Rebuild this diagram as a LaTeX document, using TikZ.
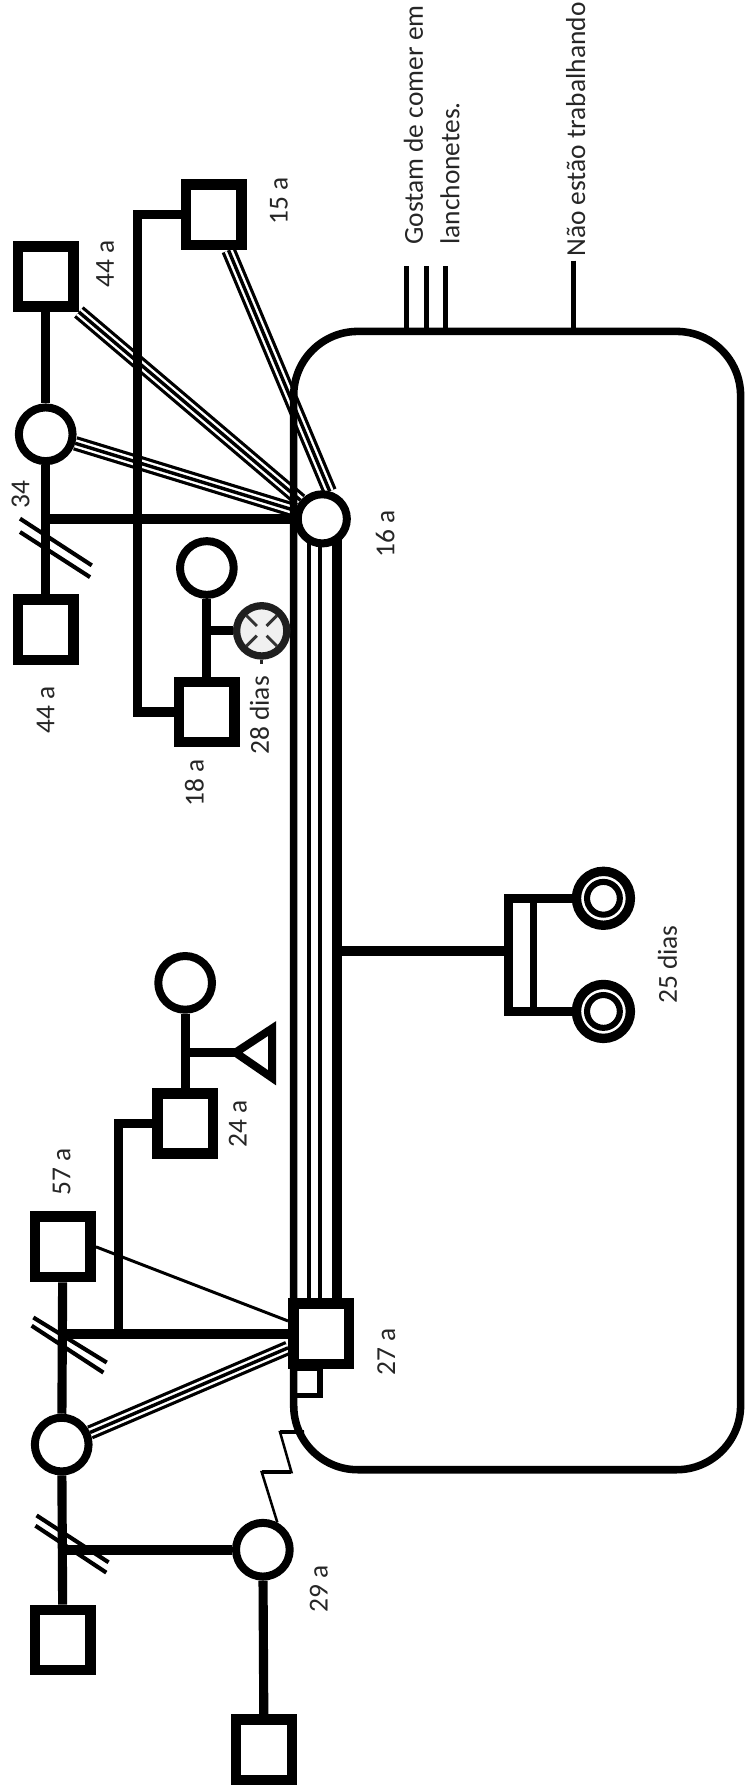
\documentclass[tikz,border=0pt]{standalone}
\usepackage{fontspec}
\setmainfont{Carlito}
\usetikzlibrary{shapes.geometric}
\pgfdeclarelayer{bg}
\pgfsetlayers{bg,main}
\tikzset{
  sq/.style={draw, line width=4.6pt, fill=white, minimum width=24.4pt, minimum height=26.4pt, inner sep=0pt},
  ci/.style={draw, circle, line width=3.5pt, fill=white, minimum size=23.5pt, inner sep=0pt},
  twin/.style={draw, circle, line width=4.1pt, fill=white, minimum size=23.6pt, inner sep=0pt},
  conn/.style={line width=4pt},
  marr/.style={line width=4.5pt},
  thinl/.style={line width=1.8pt},
  slash/.style={line width=1.8pt},
  zig/.style={line width=1.1pt, line join=miter},
  zigh/.style={line width=1.9pt},
  lab/.style={rotate=90, font=\fontsize{12}{14}\selectfont, text=black!85, inner sep=0pt},
  tripA/.style={line width=6.4pt},
  tripB/.style={line width=3.6pt, white},
  tripC/.style={line width=1.5pt},
  xmark/.style={line width=1.3pt, draw=black!80},
}
\newcommand\tripline[2]{\draw[tripA] #1 -- #2; \draw[tripB] #1 -- #2; \draw[tripC] #1 -- #2;}
\begin{document}
\begin{tikzpicture}[x=0.5pt, y=-0.5pt]
\useasboundingbox (0,0) rectangle (654,1568);

% ---------- persons ----------
\node[sq] (sqA) at (40,242) {};
\node[ci] (cB) at (40,380) {};
\node[sq] (sqC) at (40,551) {};
\node[sq] (sq15) at (187,188) {};
\node[ci, minimum size=21.5pt] (c16) at (282,454) {};
\node[ci] (c18w) at (181,497) {};
\node[sq] (sq18) at (181,623) {};
\node[ci, draw=black!88, fill=black!6, line width=3.2pt, minimum size=22pt] (cdead) at (229,552) {};
\node[ci] (c24w) at (162,860) {};
\node[sq] (sq24) at (162,983) {};
\node[sq] (sq57) at (55,1091) {};
\node[ci] (c27m) at (54,1264) {};
\node[sq] (sqBL) at (55,1435) {};
\node[sq] (sq27) at (281,1167) {};
\node[ci] (c29) at (230,1356) {};
\node[sq] (sq29c) at (231,1531) {};
\node[twin] (tw1) at (528,786) {};
\node[twin] (tw2) at (528,885) {};
\draw[line width=2.65pt] (tw1.center) circle[radius=7.18pt];
\draw[line width=2.65pt] (tw2.center) circle[radius=7.18pt];

% deceased mark
\draw[xmark] ([shift={(45:3pt)}]cdead.center) -- ([shift={(45:9.5pt)}]cdead.center);
\draw[xmark] ([shift={(135:3pt)}]cdead.center) -- ([shift={(135:9.5pt)}]cdead.center);
\draw[xmark] ([shift={(225:3pt)}]cdead.center) -- ([shift={(225:9.5pt)}]cdead.center);
\draw[xmark] ([shift={(315:3pt)}]cdead.center) -- ([shift={(315:9.5pt)}]cdead.center);
\draw[line width=1.5pt, black!85] (cdead.south) -- ++(0,4);

% pregnancy triangle
\coordinate (tri) at (206,921);
\draw[line width=3.5pt, line join=miter, fill=white] (tri) -- (238,900) -- (238,943) -- cycle;

% ---------- helper coordinates ----------
\coordinate (vx) at (120,0);
\coordinate (vx2) at (104,0);
\coordinate (k1) at (270,0);
\coordinate (k2) at (280,0);
\coordinate (k3) at (295,0);
\coordinate (twbar) at (445,832);
\coordinate (bx) at (445,0);
\coordinate (bi) at (467,0);
\coordinate (g1) at (356,233);
\coordinate (g2) at (373,233);
\coordinate (g3) at (390,233);
\coordinate (g4) at (502,228);
\coordinate (zz) at (266,1253);

\begin{pgfonlayer}{bg}
% relationship triple lines
\tripline{(sqA.south east)}{(c16)}
\tripline{(cB)}{(c16)}
\tripline{(sq15)}{(c16.75)}
\tripline{(c27m)}{(sq27)}
\draw[line width=1.3pt] (sq57.east) -- (sq27);

% household
\node[draw, rounded corners=28pt, line width=3.3pt, minimum width=195.5pt, minimum height=498pt, inner sep=0pt] (house) at (452.5,788) {};
\draw[line width=2.3pt] (256.5,1197) rectangle (280,1221);
\draw[line width=2.2pt] (g1) -- (g1 |- house.north);
\draw[line width=2.2pt] (g2) -- (g2 |- house.north);
\draw[line width=2.2pt] (g3) -- (g3 |- house.north);
\draw[line width=2.2pt] (g4) -- (g4 |- house.north);

% family lines
\draw[conn] (sqA) -- (cB);
\draw[conn] (cB) -- (sqC);
\draw[marr] (cB |- c16) -- (c16);
\draw[conn] (sq15.west) -- (sq15.west -| vx) |- (sq18);
\draw[conn] (c18w) -- (sq18);
\draw[conn] (c18w |- cdead) -- (cdead);
\draw[conn] (c24w) -- (sq24);
\draw[conn] (c24w |- tri) -- (tri);
\draw[conn] (sq24) -- (sq24 -| vx2) -- (vx2 |- sq27);
\draw[conn] (sq57) -- (c27m);
\draw[marr] (sq57 |- sq27) -- (sq27);
\draw[conn] (c27m) -- (sqBL);
\draw[marr] (c27m |- c29) -- (c29);
\draw[conn] (c29) -- (sq29c);

% couple 16a - 27a
\draw[thinl] (k1 |- c16) -- (k1 |- sq27);
\draw[thinl] (k2 |- c16) -- (k2 |- sq27);
\draw[line width=4.2pt] (k3 |- c16) -- (k3 |- sq27);

% twins
\draw[marr] (k3 |- twbar) -- (twbar);
\draw[conn, line join=miter] (tw1) -- (bx |- tw1) -- (bx |- tw2) -- (tw2);
\draw[line width=2.9pt] (bi |- tw1) -- (bi |- tw2);

% divorce / separation marks
\draw[slash] (17.5,453.8) -- (80.3,494.7);
\draw[slash] (17.5,465.5) -- (78.8,505);
\draw[slash] (29.2,1152.8) -- (93.4,1192.2);
\draw[slash] (27.7,1160) -- (90.5,1201);
\draw[slash] (32,1326) -- (95,1367);
\draw[slash] (31,1335) -- (93,1376);

% conflict zigzag
\draw[zig] (c29.62) -- (229,1288) -- (255,1288) -- (245,1253) -- (zz);
\draw[zigh] (229,1288) -- (255,1288);
\draw[zigh] (245,1253) -- (zz);
\end{pgfonlayer}

% ---------- labels ----------
\node[lab] (t44a) at (92,231) {44 a};
\node[lab] (t15) at (244,176) {15 a};
\node[lab] (t34) at (18,433) {34};
\node[lab] (t16) at (337,467) {16 a};
\node[lab] (t44b) at (40,621) {44 a};
\node[lab] (t18) at (170,685) {18 a};
\node[lab] (t28) at (227,626) {28 dias};
\node[lab] (t25) at (584,844) {25 dias};
\node[lab] (t24) at (208,983) {24 a};
\node[lab] (t57) at (54,1025) {57 a};
\node[lab] (t27) at (338,1183) {27 a};
\node[lab] (t29) at (279,1390) {29 a};
\node[lab, anchor=base west] (tg1) at (370,214.5) {Gostam de comer em};
\node[lab, anchor=base west] (tg2) at (402,214.5) {lanchonetes.};
\node[lab, anchor=base west] (tn) at (512,225) {Não estão trabalhando};
\end{tikzpicture}
\end{document}
